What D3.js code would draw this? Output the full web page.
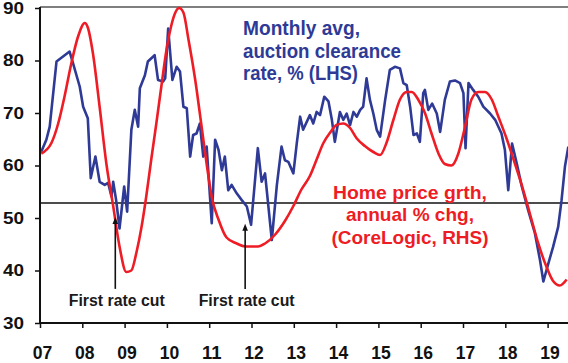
<!DOCTYPE html>
<html>
<head>
<meta charset="utf-8">
<script src="https://cdn.jsdelivr.net/npm/d3@7"></script>
<style>
  html, body { margin: 0; padding: 0; background: #ffffff; }
  svg { display: block; }
  text { font-family: "Liberation Sans", Arial, sans-serif; font-weight: bold; }
</style>
</head>
<body>
<svg id="chart" width="568" height="363"></svg>
<script>
// ---- Data ----
const xTickYears = [2007, 2008, 2009, 2010, 2011, 2012, 2013, 2014, 2015, 2016, 2017, 2018, 2019];
const yTicksLHS = [30, 40, 50, 60, 70, 80, 90];

// Monthly avg auction clearance rate, % (LHS)
const clearanceDates = [2007.03,2007.15,2007.23,2007.39,2007.70,2007.78,2007.94,2008.02,2008.13,2008.20,2008.31,2008.41,2008.53,2008.61,2008.69,2008.73,2008.80,2008.88,2008.99,2009.06,2009.16,2009.24,2009.32,2009.36,2009.48,2009.55,2009.71,2009.79,2009.91,2009.96,2010.03,2010.13,2010.23,2010.31,2010.39,2010.47,2010.55,2010.62,2010.70,2010.78,2010.86,2010.94,2011.06,2011.14,2011.22,2011.30,2011.37,2011.45,2011.53,2011.65,2011.77,2011.89,2011.99,2012.15,2012.24,2012.32,2012.48,2012.60,2012.71,2012.79,2012.87,2012.99,2013.07,2013.15,2013.22,2013.38,2013.46,2013.54,2013.62,2013.72,2013.82,2013.90,2013.97,2014.09,2014.17,2014.25,2014.33,2014.41,2014.49,2014.57,2014.64,2014.72,2014.80,2014.88,2014.96,2015.04,2015.16,2015.27,2015.39,2015.51,2015.59,2015.67,2015.75,2015.83,2015.91,2015.98,2016.06,2016.10,2016.18,2016.27,2016.38,2016.46,2016.57,2016.69,2016.81,2016.93,2017.01,2017.06,2017.13,2017.24,2017.36,2017.48,2017.64,2017.76,2017.91,2017.99,2018.07,2018.16,2018.27,2018.39,2018.54,2018.70,2018.82,2018.90,2019.02,2019.13,2019.25,2019.33,2019.41,2019.49];
const clearanceValues = [62.6,64.9,67.4,79.8,81.7,79.5,75.0,71.2,69.0,57.6,61.7,56.9,56.3,56.7,54.1,56.9,53.4,48.0,56.0,51.2,66.8,70.6,67.4,74.7,77.2,79.8,81.0,76.3,76.0,76.6,86.1,76.3,78.8,77.9,71.2,70.9,61.7,65.8,66.1,68.0,61.7,63.6,49.0,64.9,63.0,59.1,61.7,55.3,56.3,54.7,53.4,52.2,48.7,63.3,56.9,58.5,45.8,56.3,63.6,61.0,60.7,58.5,64.2,69.3,66.8,69.6,68.0,70.2,69.6,73.1,72.2,68.7,64.5,70.2,68.7,69.9,67.7,70.2,69.3,70.6,71.2,76.6,72.5,69.9,66.8,65.5,72.5,78.2,78.8,78.5,75.7,75.3,71.2,65.8,66.1,64.5,73.8,74.4,70.6,71.8,69.9,66.4,72.5,76.0,76.2,75.7,73.8,63.3,75.7,74.4,73.1,71.2,69.9,68.7,66.1,63.0,55.3,64.2,60.4,56.0,51.5,47.1,42.0,37.9,41.4,44.5,48.3,53.4,59.8,63.6];

// Home price growth, annual % chg (CoreLogic, RHS)
const priceDates = [2007.03,2007.27,2007.43,2007.58,2007.74,2007.90,2008.06,2008.13,2008.25,2008.41,2008.57,2008.73,2008.88,2009.04,2009.16,2009.28,2009.40,2009.51,2009.63,2009.75,2009.87,2009.99,2010.11,2010.20,2010.29,2010.39,2010.51,2010.67,2010.82,2010.94,2011.06,2011.22,2011.41,2011.65,2011.85,2012.16,2012.32,2012.56,2012.79,2012.99,2013.18,2013.38,2013.54,2013.70,2013.86,2014.01,2014.17,2014.33,2014.49,2014.68,2014.88,2015.04,2015.19,2015.35,2015.51,2015.67,2015.79,2015.94,2016.10,2016.26,2016.42,2016.57,2016.73,2016.89,2017.05,2017.20,2017.36,2017.52,2017.68,2017.83,2018.03,2018.23,2018.42,2018.58,2018.78,2018.98,2019.13,2019.29,2019.45];
const priceGrowth = [3.3,4.0,5.3,7.1,9.3,11.1,12.0,11.7,10.0,6.4,2.6,-0.2,-2.9,-4.6,-4.5,-3.3,-1.6,0.4,2.9,5.3,7.8,10.2,11.9,12.7,13.0,12.7,10.9,8.2,5.1,2.6,0.4,-1.1,-2.3,-2.7,-2.9,-2.9,-2.7,-2.1,-1.2,-0.2,0.9,1.8,2.9,4.0,4.7,5.2,5.3,5.0,4.3,3.8,3.4,3.2,4.0,5.5,6.9,7.4,7.4,6.9,6.0,4.6,3.3,2.6,2.5,3.3,5.1,6.9,7.4,7.4,6.9,5.8,4.3,2.6,0.9,-0.7,-2.7,-4.3,-5.2,-5.5,-5.1];

// Annotations
const rateCutDates = [2008.78, 2011.85];
const rateCutArrowTop = [50.2, 48.9];   // LHS value at arrow tip
const rateCutArrowBottom = [36.5, 36.5];
const rateCutLabel = "First rate cut";
const clearanceLabel = ["Monthly avg,", "auction clearance", "rate, % (LHS)"];
const priceLabel = ["Home price grth,", "annual % chg,", "(CoreLogic, RHS)"];

// ---- Layout ----
const W = 568, H = 363;
const plotLeft = 40, plotTop = 8, plotBottom = 323;
const yearPx = 42.3;
const blue = "#2E3A96", red = "#EE1C25";

const svg = d3.select("#chart");

const x = d3.scaleLinear().domain([2007, 2020]).range([plotLeft, plotLeft + 13 * yearPx]);
const y = d3.scaleLinear().domain([30, 90]).range([plotBottom, plotTop]);
const y2 = d3.scaleLinear().domain([-8, 13]).range([plotBottom, plotTop]);

// top frame line
svg.append("line")
  .attr("x1", plotLeft).attr("x2", W).attr("y1", 7).attr("y2", 7)
  .attr("stroke", "#555").attr("stroke-width", 1.5);

// zero line of RHS
svg.append("line")
  .attr("x1", plotLeft).attr("x2", W).attr("y1", y2(0)).attr("y2", y2(0))
  .attr("stroke", "#111").attr("stroke-width", 1.4);

// series
const blueData = d3.zip(clearanceDates, clearanceValues);
const redData = d3.zip(priceDates, priceGrowth);

svg.append("path")
  .datum(blueData)
  .attr("fill", "none").attr("stroke", blue).attr("stroke-width", 2.6)
  .attr("stroke-linejoin", "round")
  .attr("d", d3.line().x(d => x(d[0])).y(d => y(d[1])));

svg.append("path")
  .datum(redData)
  .attr("fill", "none").attr("stroke", red).attr("stroke-width", 2.6)
  .attr("d", d3.line().curve(d3.curveMonotoneX).x(d => x(d[0])).y(d => y2(d[1])));

// axes
const xAxis = d3.axisBottom(x).tickValues(xTickYears)
  .tickFormat(d => String(d).slice(2)).tickSize(5).tickPadding(17.5).tickSizeOuter(0);
const gx = svg.append("g").attr("transform", `translate(0,${plotBottom})`).call(xAxis);
gx.select(".domain").remove();
gx.append("line").attr("x1", plotLeft - 1).attr("x2", W).attr("y1", 0).attr("y2", 0)
  .attr("stroke", "#111").attr("stroke-width", 2);
gx.selectAll(".tick line").attr("stroke", "#111").attr("stroke-width", 1.5);
gx.selectAll(".tick text")
  .attr("fill", "#111").attr("font-size", 18.5).attr("dx", 2)
  .attr("textLength", 19.5).attr("lengthAdjust", "spacingAndGlyphs")
  .style("font-family", "'Liberation Sans', Arial, sans-serif").style("font-weight", "bold");

const yAxis = d3.axisLeft(y).tickValues(yTicksLHS).tickSize(5).tickPadding(11).tickSizeOuter(0);
const gy = svg.append("g").attr("transform", `translate(${plotLeft},0)`).call(yAxis);
gy.select(".domain").remove();
gy.append("line").attr("x1", 0).attr("x2", 0).attr("y1", 7).attr("y2", plotBottom + 1)
  .attr("stroke", "#111").attr("stroke-width", 2);
gy.selectAll(".tick line").attr("stroke", "#111").attr("stroke-width", 1.5);
gy.selectAll(".tick text")
  .attr("fill", "#111").attr("font-size", 16)
  .attr("textLength", 21).attr("lengthAdjust", "spacingAndGlyphs")
  .style("font-family", "'Liberation Sans', Arial, sans-serif").style("font-weight", "bold");

// series labels
const blueLens = [117, 158, 115];
svg.append("g").selectAll("text").data(clearanceLabel).join("text")
  .attr("x", 243).attr("y", (d, i) => 35 + i * 22.5)
  .attr("fill", blue).attr("font-size", 19.5)
  .attr("textLength", (d, i) => blueLens[i]).attr("lengthAdjust", "spacingAndGlyphs")
  .text(d => d);

const redLens = [154, 128, 157];
svg.append("g").selectAll("text").data(priceLabel).join("text")
  .attr("x", 410).attr("y", (d, i) => 198.5 + i * 22.5)
  .attr("text-anchor", "middle")
  .attr("fill", red).attr("font-size", 19)
  .attr("textLength", (d, i) => redLens[i]).attr("lengthAdjust", "spacingAndGlyphs")
  .text(d => d);

// rate cut annotations
const ann = svg.append("g");
rateCutDates.forEach((dt, i) => {
  const ax = x(dt);
  const yt = y(rateCutArrowTop[i]);
  const yb = y(rateCutArrowBottom[i]);
  ann.append("line").attr("x1", ax).attr("x2", ax).attr("y1", yt + 4).attr("y2", yb)
    .attr("stroke", "#111").attr("stroke-width", 1.6);
  ann.append("path")
    .attr("d", `M${ax},${yt} L${ax - 2.8},${yt + 7} L${ax + 2.8},${yt + 7} Z`)
    .attr("fill", "#111");
  ann.append("text")
    .attr("x", ax + 1.5).attr("y", 306).attr("text-anchor", "middle")
    .attr("fill", "#1a1a1a").attr("font-size", 16)
    .attr("textLength", 96).attr("lengthAdjust", "spacingAndGlyphs")
    .text(rateCutLabel);
});
</script>
</body>
</html>
